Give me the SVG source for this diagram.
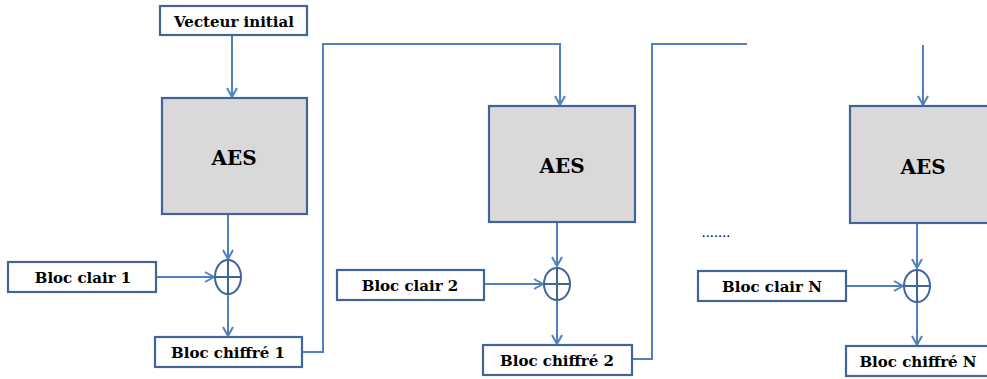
<svg xmlns="http://www.w3.org/2000/svg" width="987" height="379" viewBox="0 0 987 379">
<style>
.box{fill:#fff;stroke:#41659A;stroke-width:2.2}
.aes{fill:#D9D9D9;stroke:#41659A;stroke-width:2.2}
.xor{fill:none;stroke:#41659A;stroke-width:2}
.lbl{font-family:"DejaVu Serif","Liberation Serif",serif;font-weight:bold;font-size:15px;fill:#000;text-anchor:middle}
.big{font-size:20px}
.c{fill:none;stroke:#4F81BD;stroke-width:2}
</style>
<defs>
<marker id="ah" viewBox="0 0 12 12" refX="11" refY="6" markerWidth="12" markerHeight="12" markerUnits="userSpaceOnUse" orient="auto">
<polyline points="2,1 11,6 2,11" fill="none" stroke="#4F81BD" stroke-width="2"/>
</marker>
</defs>
<g id="connectors">
<path class="c" d="M232,35 V97" marker-end="url(#ah)"/>
<path class="c" d="M228,214 V259" marker-end="url(#ah)"/>
<path class="c" d="M156,277 H214" marker-end="url(#ah)"/>
<path class="c" d="M228,294 V336" marker-end="url(#ah)"/>
<path class="c" d="M302,352 H323 V44 H560 V105" marker-end="url(#ah)"/>
<path class="c" d="M557,222 V266" marker-end="url(#ah)"/>
<path class="c" d="M484,284 H543" marker-end="url(#ah)"/>
<path class="c" d="M557,300 V344" marker-end="url(#ah)"/>
<path class="c" d="M632,359 H652 V44 H747"/>
<path class="c" d="M923,45 V105" marker-end="url(#ah)"/>
<path class="c" d="M917,223 V268" marker-end="url(#ah)"/>
<path class="c" d="M846,286 H903" marker-end="url(#ah)"/>
<path class="c" d="M917,302 V345" marker-end="url(#ah)"/>
</g>
<g id="vecteur"><rect class="box" x="160" y="6" width="147" height="29"/><text class="lbl" x="234" y="27">Vecteur initial</text></g>
<g id="aes1"><rect class="aes" x="162" y="98" width="145" height="116"/><text class="lbl big" x="234" y="165">AES</text></g>
<g id="xor1"><ellipse class="xor" cx="228" cy="277" rx="13" ry="17"/><path class="xor" d="M215,277 H241 M228,260 V294"/></g>
<g id="clair1"><rect class="box" x="8" y="262" width="148" height="30"/><text class="lbl" x="83" y="283">Bloc clair 1</text></g>
<g id="chiffre1"><rect class="box" x="155" y="337" width="147" height="30"/><text class="lbl" x="228" y="358">Bloc chiffré 1</text></g>
<g id="aes2"><rect class="aes" x="489" y="106" width="146" height="116"/><text class="lbl big" x="562" y="173">AES</text></g>
<g id="xor2"><ellipse class="xor" cx="557" cy="284" rx="13" ry="16"/><path class="xor" d="M544,284 H570 M557,268 V300"/></g>
<g id="clair2"><rect class="box" x="337" y="270" width="147" height="30"/><text class="lbl" x="410" y="291">Bloc clair 2</text></g>
<g id="chiffre2"><rect class="box" x="483" y="345" width="149" height="30"/><text class="lbl" x="557" y="366">Bloc chiffré 2</text></g>
<g id="dots"><text class="lbl" x="716" y="237" style="font-weight:normal;font-size:13px">.......</text></g>
<g id="aes3"><rect class="aes" x="850" y="106" width="146" height="117"/><text class="lbl big" x="923" y="174">AES</text></g>
<g id="xor3"><ellipse class="xor" cx="917" cy="286" rx="13" ry="16"/><path class="xor" d="M904,286 H930 M917,270 V302"/></g>
<g id="clairN"><rect class="box" x="698" y="271" width="148" height="30"/><text class="lbl" x="772" y="292">Bloc clair N</text></g>
<g id="chiffreN"><rect class="box" x="846" y="346" width="148" height="30"/><text class="lbl" x="918" y="367">Bloc chiffré N</text></g>
</svg>
